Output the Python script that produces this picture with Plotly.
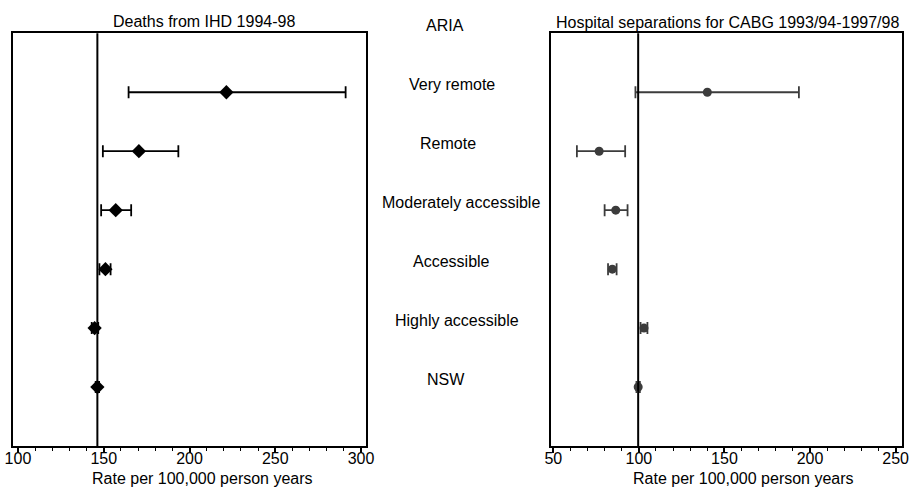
import plotly.graph_objects as go

# Row labels (ARIA is the column heading in the middle strip)
header = "ARIA"
regions = ["Very remote", "Remote", "Moderately accessible", "Accessible",
           "Highly accessible", "NSW"]

# Deaths from IHD 1994-98, rate per 100,000 person years with 95% CI
ihd_rate = [221.5, 170.5, 157.0, 151.0, 144.7, 146.3]
ihd_low = [164.5, 149.5, 148.5, 147.5, 143.0, 145.3]
ihd_high = [291.0, 193.5, 166.0, 154.0, 146.8, 147.3]

# Hospital separations for CABG 1993/94-1997/98
cabg_rate = [140.0, 76.8, 86.5, 84.5, 103.0, 99.6]
cabg_low = [98.0, 63.8, 80.0, 82.0, 101.0, 98.6]
cabg_high = [193.5, 92.0, 93.4, 87.0, 105.0, 100.6]

ihd_ticks = [100, 150, 200, 250, 300]
cabg_ticks = [50, 100, 150, 200, 250]

W, H = 914, 488
FONT = "Liberation Sans, Arial, sans-serif"

# horizontal centre (px) of each label in the middle strip
label_centres = [445, 452, 448, 461, 451, 457, 446]


def px_x(p):
    return p / W


def px_y(p):
    return 1 - p / H


fig = go.Figure()

fig.add_trace(go.Scatter(
    x=ihd_rate, y=regions, mode="markers",
    marker=dict(symbol="diamond", size=11, color="black"),
    error_x=dict(type="data", symmetric=False,
                 array=[h - r for h, r in zip(ihd_high, ihd_rate)],
                 arrayminus=[r - l for r, l in zip(ihd_rate, ihd_low)],
                 color="black", thickness=1.8, width=6),
    xaxis="x", yaxis="y", showlegend=False,
))

fig.add_trace(go.Scatter(
    x=cabg_rate, y=regions, mode="markers",
    marker=dict(symbol="circle", size=9, color="#3c3c3c"),
    error_x=dict(type="data", symmetric=False,
                 array=[h - r for h, r in zip(cabg_high, cabg_rate)],
                 arrayminus=[r - l for r, l in zip(cabg_rate, cabg_low)],
                 color="#3c3c3c", thickness=1.8, width=6),
    xaxis="x2", yaxis="y2", showlegend=False,
))

cats = [header] + regions
xcommon = dict(
    showline=True, linecolor="black", linewidth=2, mirror=True,
    showgrid=False, zeroline=False,
    ticks="outside", ticklen=5, tickwidth=1.5, tickcolor="black",
    tickfont=dict(family=FONT, size=16, color="black"),
    ticklabelstandoff=-8,
    minor=dict(dtick=10, ticks="outside", ticklen=3, tickwidth=1, tickcolor="black"),
    automargin=False,
)
ycommon = dict(
    type="category", categoryorder="array", categoryarray=cats,
    range=[7, 0], showline=True, linecolor="black", linewidth=2,
    mirror=True, showgrid=False, zeroline=False, showticklabels=False,
    ticks="", automargin=False,
    domain=[px_y(446), px_y(33.3)],
)

fig.update_layout(
    width=W, height=H,
    margin=dict(l=0, r=0, t=0, b=0),
    paper_bgcolor="white", plot_bgcolor="white",
    font=dict(family=FONT, size=16, color="black"),
    xaxis=dict(xcommon, range=[97.3, 302.7], tickvals=ihd_ticks,
               domain=[px_x(13.3), px_x(365.7)], anchor="y"),
    yaxis=dict(ycommon, anchor="x"),
    xaxis2=dict(xcommon, range=[48.5, 253.9], tickvals=cabg_ticks,
                domain=[px_x(550.7), px_x(902.3)], anchor="y2"),
    yaxis2=dict(ycommon, anchor="x2"),
)

# NSW reference lines
fig.add_shape(type="line", xref="x", yref="y domain", x0=ihd_rate[-1], x1=ihd_rate[-1],
              y0=0, y1=1, line=dict(color="black", width=2))
fig.add_shape(type="line", xref="x2", yref="y2 domain", x0=cabg_rate[-1], x1=cabg_rate[-1],
              y0=0, y1=1, line=dict(color="black", width=2))

# Row labels in the middle strip
for c, cx in zip(cats, label_centres):
    fig.add_annotation(text=c, xref="paper", yref="y", x=px_x(cx), y=c,
                       xanchor="center", yanchor="middle", yshift=8,
                       showarrow=False, font=dict(family=FONT, size=16, color="black"))

# Panel titles and axis titles
texts = [
    ("Deaths from IHD 1994-98", 203.8, 21.7),
    ("Hospital separations for CABG 1993/94-1997/98", 727.2, 22.5),
    ("Rate per 100,000 person years", 202.7, 478.3),
    ("Rate per 100,000 person years", 743.8, 478.3),
]
for t, x, y in texts:
    fig.add_annotation(text=t, xref="paper", yref="paper", x=px_x(x), y=px_y(y),
                       xanchor="center", yanchor="middle", showarrow=False,
                       font=dict(family=FONT, size=16, color="black"))

fig.write_html("out.html")
